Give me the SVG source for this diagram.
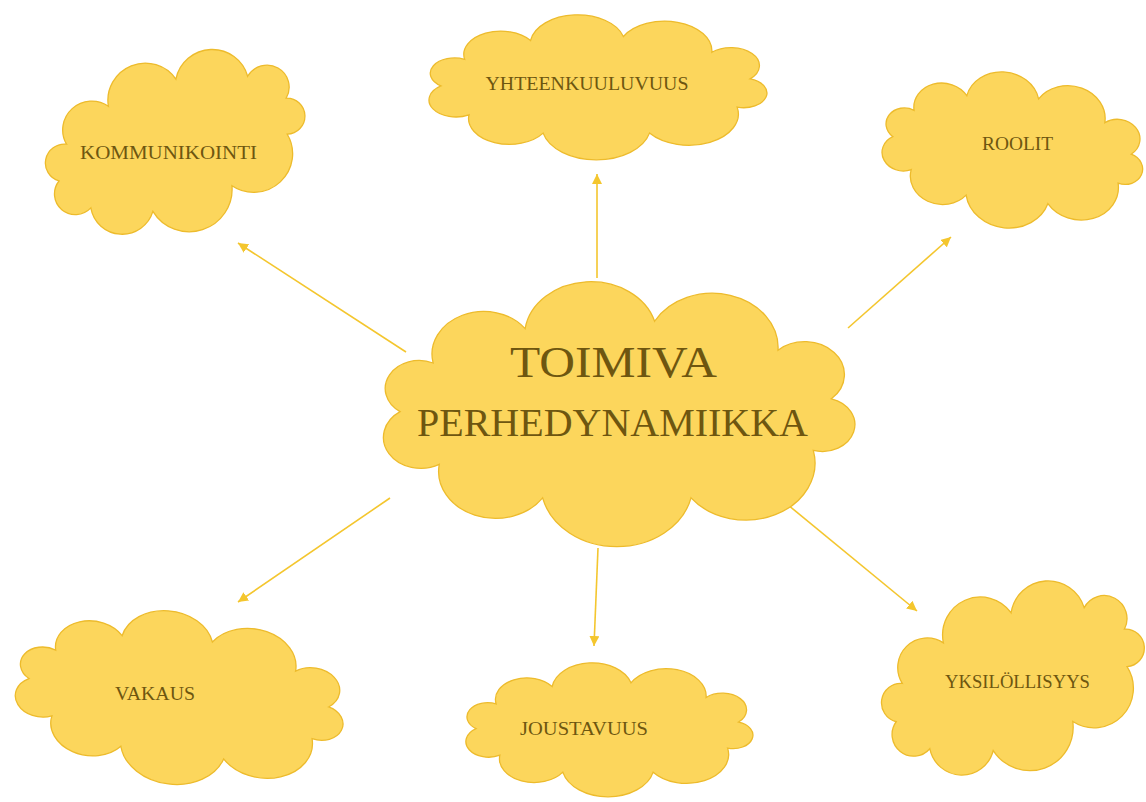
<svg xmlns="http://www.w3.org/2000/svg" width="1146" height="802" viewBox="0 0 1146 802">
<style>
.cloud{fill:#FCD65C;stroke:#EDBB2C;stroke-width:1.3}
.lbl{font-family:"Liberation Serif","DejaVu Serif",serif;fill:#6E5610;text-anchor:middle;font-size:18px}
.big{font-family:"Liberation Serif","DejaVu Serif",serif;fill:#6E5610;text-anchor:middle}
.conn{stroke:#F4C62E;stroke-width:1.6;fill:none;marker-end:url(#arr)}
</style>
<defs>
<path id="cloud" vector-effect="non-scaling-stroke" d="M22,60 A12.2,12.2 0 0 1 33.9,38.8 A18.6,18.6 0 0 1 67,23.8 A23.9,23.9 0 0 1 113.6,20.6 A23.7,23.7 0 0 1 158,33.2 A14.3,14.3 0 0 1 177.2,54.4 A11.7,11.7 0 0 1 170.7,76.9 A24.9,24.9 0 0 1 126.7,97.6 A27.4,27.4 0 0 1 73.3,97.6 A20.5,20.5 0 0 1 36.1,83 A13.5,13.5 0 0 1 22,60 Z"/>
<marker id="arr" markerUnits="userSpaceOnUse" markerWidth="12" markerHeight="10" refX="10" refY="5" orient="auto">
<path d="M0,0 L10,5 L0,10 Z" fill="#F4C62E"/>
</marker>
</defs>
<rect width="1146" height="802" fill="#FFFFFF"/>
<g id="connectors">
<line class="conn" x1="406" y1="352" x2="238" y2="243"/>
<line class="conn" x1="597" y1="278" x2="597" y2="174"/>
<line class="conn" x1="848" y1="328" x2="951" y2="237"/>
<line class="conn" x1="390" y1="498" x2="238" y2="602"/>
<line class="conn" x1="598" y1="548" x2="594" y2="646"/>
<line class="conn" x1="782" y1="500" x2="917" y2="611"/>
</g>
<g id="node-center">
<use href="#cloud" class="cloud" transform="translate(618.5,414.5) scale(2.779,2.294) translate(-100.6,-61.25)"/>
<text class="big" x="613.5" y="377" font-size="44" textLength="207" lengthAdjust="spacingAndGlyphs">TOIMIVA</text>
<text class="big" x="612.5" y="436" font-size="40" textLength="391" lengthAdjust="spacingAndGlyphs">PERHEDYNAMIIKKA</text>
</g>
<g id="node-kommunikointi">
<use href="#cloud" class="cloud" transform="translate(176,145) rotate(-18) scale(1.557,1.541) translate(-100.6,-61.25)"/>
<text class="lbl" x="168.5" y="159" textLength="177" lengthAdjust="spacingAndGlyphs">KOMMUNIKOINTI</text>
</g>
<g id="node-yhteenkuuluvuus">
<use href="#cloud" class="cloud" transform="translate(597.5,87.5) scale(1.992,1.255) translate(-100.6,-61.25)"/>
<text class="lbl" x="587" y="90" textLength="203" lengthAdjust="spacingAndGlyphs">YHTEENKUULUVUUS</text>
</g>
<g id="node-roolit">
<use href="#cloud" class="cloud" transform="translate(1013,151) rotate(6) scale(1.539,1.342) translate(-100.6,-61.25)"/>
<text class="lbl" x="1017.5" y="150" textLength="71" lengthAdjust="spacingAndGlyphs">ROOLIT</text>
</g>
<g id="node-vakaus">
<use href="#cloud" class="cloud" transform="translate(180,699) rotate(7) scale(1.939,1.489) translate(-100.6,-61.25)"/>
<text class="lbl" x="155" y="700" textLength="80" lengthAdjust="spacingAndGlyphs">VAKAUS</text>
</g>
<g id="node-joustavuus">
<use href="#cloud" class="cloud" transform="translate(609,730) scale(1.692,1.160) translate(-100.6,-61.25)"/>
<text class="lbl" x="584" y="735" textLength="128" lengthAdjust="spacingAndGlyphs">JOUSTAVUUS</text>
</g>
<g id="node-yksilollisyys">
<use href="#cloud" class="cloud" transform="translate(1014,681) rotate(-20) scale(1.586,1.602) translate(-100.6,-61.25)"/>
<text class="lbl" x="1017.5" y="688" textLength="145" lengthAdjust="spacingAndGlyphs">YKSILÖLLISYYS</text>
</g>
</svg>
